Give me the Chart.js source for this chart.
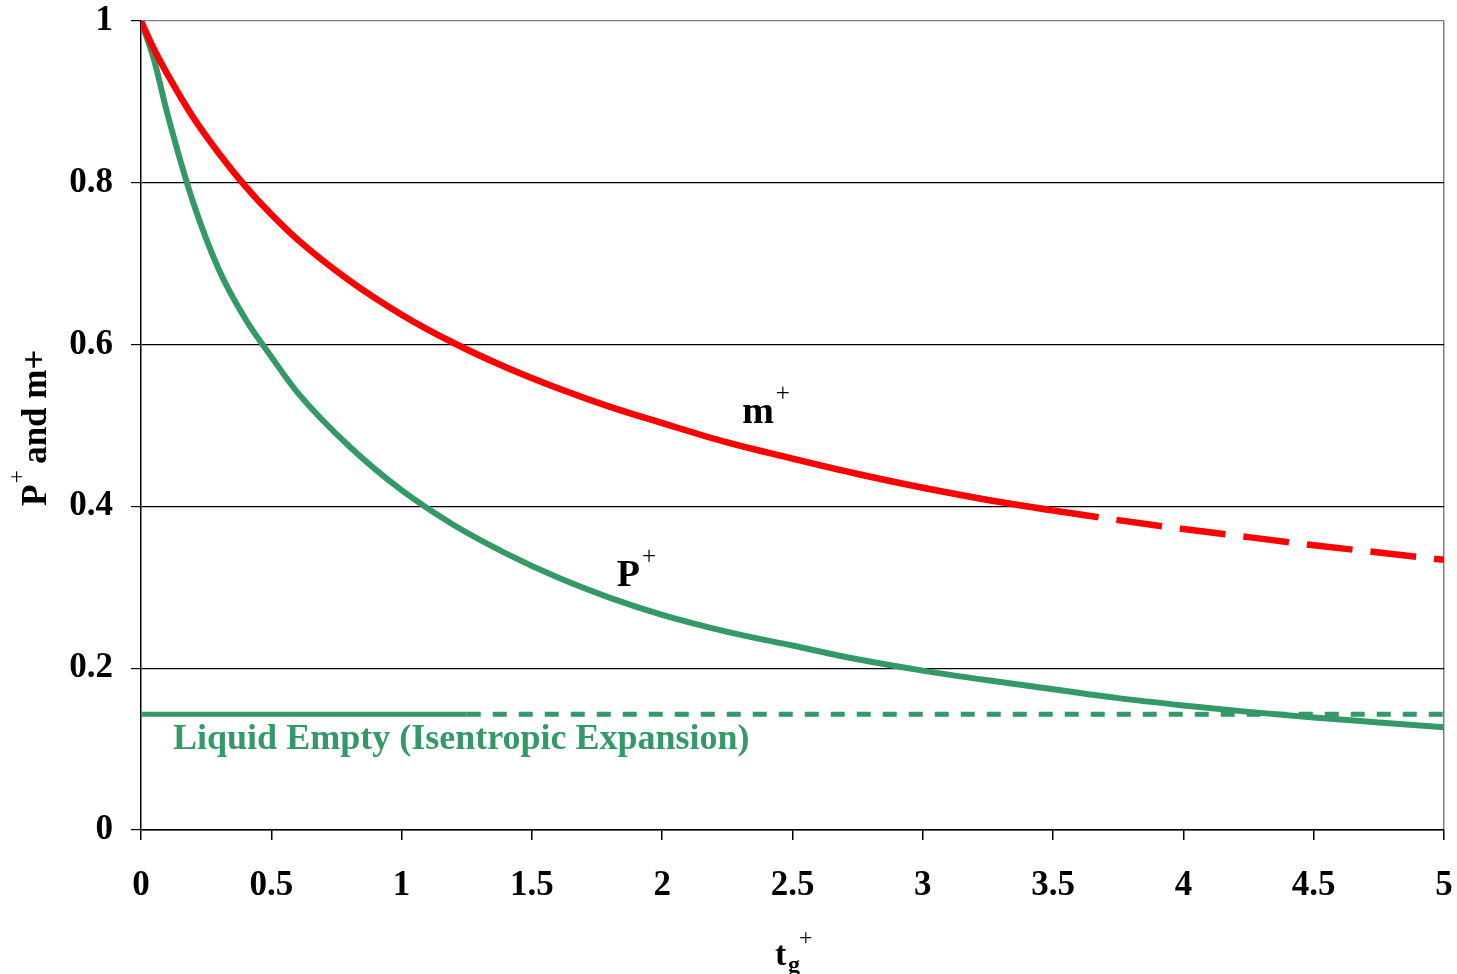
<!DOCTYPE html>
<html>
<head>
<meta charset="utf-8">
<title>P+ and m+ vs tg+</title>
<script src="https://cdn.jsdelivr.net/npm/chart.js@4.4.1/dist/chart.umd.min.js"></script>
<style>
  html, body { margin: 0; padding: 0; background: #fff; }
  #wrap { width: 1457px; height: 974px; }
</style>
</head>
<body>
<div id="wrap"><canvas id="chart" width="1457" height="974"></canvas></div>
<script>
// dimensionless time t_g+
const tValues = [0, 0.05, 0.1, 0.2, 0.3, 0.4, 0.5, 0.6, 0.8, 1.0, 1.2, 1.4, 1.6, 1.8, 2.0,
  2.25, 2.5, 2.75, 3.0, 3.25, 3.5, 3.75, 4.0, 4.25, 4.5, 4.75, 5.0];
// m+ (red)
const mPlus = [1.0, 0.965, 0.935, 0.881, 0.836, 0.796, 0.761, 0.73, 0.679, 0.637, 0.602,
  0.572, 0.546, 0.523, 0.503, 0.479, 0.459, 0.44, 0.423, 0.408, 0.395, 0.383, 0.372,
  0.362, 0.352, 0.343, 0.334];
// P+ (green)
const pPlus = [1.0, 0.952, 0.887, 0.776, 0.692, 0.632, 0.585, 0.541, 0.474, 0.42, 0.377,
  0.342, 0.312, 0.287, 0.266, 0.245, 0.228, 0.211, 0.197, 0.185, 0.174, 0.163, 0.154,
  0.146, 0.139, 0.133, 0.127];
// liquid empty line (isentropic expansion)
const liquidEmptyT = [0, 1.25, 5];
const liquidEmpty = [0.143, 0.143, 0.143];

const xTicks = [0, 0.5, 1, 1.5, 2, 2.5, 3, 3.5, 4, 4.5, 5];
const yTicks = [0, 0.2, 0.4, 0.6, 0.8, 1];

// where the dashed parts start
const mDashFrom = 3.5;
const liquidDashFrom = 1.25;

const RED = "#ff0000";
const GREEN = "#339966";
const SERIF = "'Liberation Serif', 'Times New Roman', serif";

const toPoints = (xs, ys) => xs.map((x, i) => ({ x: x, y: ys[i] }));

// text labels drawn on top of the chart
const labelsPlugin = {
  id: "curveLabels",
  afterDraw(chart) {
    const ctx = chart.ctx;
    const xs = chart.scales.x;
    const ys = chart.scales.y;
    ctx.save();
    ctx.textBaseline = "alphabetic";
    ctx.textAlign = "left";

    // m+
    ctx.fillStyle = "#000";
    let px = xs.getPixelForValue(2.307);
    let py = ys.getPixelForValue(0.503);
    ctx.font = "bold 38px " + SERIF;
    ctx.fillText("m", px, py);
    let w = ctx.measureText("m").width;
    ctx.font = "25px " + SERIF;
    ctx.fillText("+", px + w + 2, py - 22);

    // P+
    px = xs.getPixelForValue(1.826);
    py = ys.getPixelForValue(0.302);
    ctx.font = "bold 38px " + SERIF;
    ctx.fillText("P", px, py);
    w = ctx.measureText("P").width;
    ctx.font = "25px " + SERIF;
    ctx.fillText("+", px + w + 2, py - 22);

    // liquid empty label
    ctx.fillStyle = GREEN;
    ctx.font = "bold 36px " + SERIF;
    ctx.fillText("Liquid Empty (Isentropic Expansion)", xs.getPixelForValue(0.123), ys.getPixelForValue(0.1));

    // x axis title: t_g^+
    ctx.fillStyle = "#000";
    ctx.font = "bold 34px " + SERIF;
    ctx.fillText("t", 775, 965);
    ctx.font = "bold 24px " + SERIF;
    ctx.fillText("g", 788, 972);
    ctx.font = "24px " + SERIF;
    ctx.fillText("+", 799, 945);

    // y axis title: P^+ and m+
    ctx.translate(46, 506);
    ctx.rotate(-Math.PI / 2);
    ctx.font = "bold 35px " + SERIF;
    ctx.fillText("P", 0, 0);
    w = ctx.measureText("P").width;
    ctx.font = "24px " + SERIF;
    ctx.fillText("+", w + 1, -22);
    ctx.font = "bold 35px " + SERIF;
    ctx.fillText(" and m+", w + 12, 0);
    ctx.restore();
  }
};

const ctx = document.getElementById("chart").getContext("2d");
new Chart(ctx, {
  type: "line",
  data: {
    datasets: [
      {
        label: "Liquid Empty",
        data: toPoints(liquidEmptyT, liquidEmpty),
        borderColor: GREEN,
        borderWidth: 5,
        pointRadius: 0,
        borderCapStyle: "butt",
        segment: {
          borderDash: c => (c.p0.parsed.x >= liquidDashFrom ? [14, 12] : undefined)
        }
      },
      {
        label: "m+",
        data: toPoints(tValues, mPlus),
        borderColor: RED,
        borderWidth: 6.5,
        pointRadius: 0,
        cubicInterpolationMode: "monotone",
        borderCapStyle: "butt",
        segment: {
          borderDash: c => (c.p0.parsed.x >= mDashFrom ? [46, 18] : undefined)
        }
      },
      {
        label: "P+",
        data: toPoints(tValues, pPlus),
        borderColor: GREEN,
        borderWidth: 6,
        pointRadius: 0,
        cubicInterpolationMode: "monotone"
      }
    ]
  },
  options: {
    responsive: false,
    animation: false,
    events: [],
    layout: { padding: { top: 21, right: 13, left: 0, bottom: 0 } },
    plugins: {
      legend: { display: false },
      tooltip: { enabled: false }
    },
    scales: {
      x: {
        type: "linear",
        min: 0,
        max: 5,
        afterFit: s => {
          s.height = 144;
          s.paddingLeft = 0;
          s.paddingRight = 0;
        },
        afterBuildTicks: s => { s.ticks = xTicks.map(v => ({ value: v })); },
        grid: {
          drawOnChartArea: true,
          color: c => (c.tick && c.tick.value === 5 ? "#808080" : "rgba(0,0,0,0)"),
          tickColor: "#000",
          tickLength: 10,
          lineWidth: 1.5
        },
        border: { color: "#000", width: 1.5 },
        ticks: {
          color: "#000",
          padding: 25,
          maxRotation: 0,
          font: { family: SERIF, size: 35, weight: "bold" },
          callback: v => String(v)
        }
      },
      y: {
        min: 0,
        max: 1,
        afterFit: s => {
          s.width = 141;
          s.paddingTop = 0;
          s.paddingBottom = 0;
        },
        afterBuildTicks: s => { s.ticks = yTicks.map(v => ({ value: v })); },
        grid: {
          color: c => (c.tick && c.tick.value === 1 ? "#808080" : "#000"),
          tickColor: "#000",
          tickLength: 10,
          lineWidth: 1.2
        },
        border: { color: "#000", width: 1.5 },
        ticks: {
          color: "#000",
          padding: 18,
          font: { family: SERIF, size: 35, weight: "bold" },
          callback: v => String(v)
        }
      }
    }
  },
  plugins: [labelsPlugin]
});
</script>
</body>
</html>
